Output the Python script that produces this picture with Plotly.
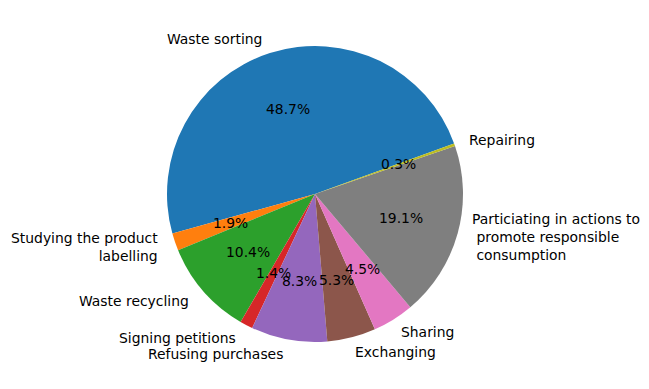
import numpy as np
import plotly.graph_objects as go

# share of respondents per action (percent)
labels = ['Waste sorting', 'Studying the product\nlabelling', 'Waste recycling',
          'Signing petitions', 'Refusing purchases', 'Exchanging', 'Sharing',
          'Particiating in actions to\n promote responsible\n consumption', 'Repairing']
shares = [48.7, 1.9, 10.4, 1.4, 8.3, 5.3, 4.5, 19.1, 0.3]
colors = ['#1f77b4', '#ff7f0e', '#2ca02c', '#d62728', '#9467bd',
          '#8c564b', '#e377c2', '#7f7f7f', '#bcbd22']
start_angle = 20  # degrees, counterclockwise from east

frac = np.array(shares) / np.sum(shares)
ends = start_angle + 360 * np.cumsum(frac)
mids = np.radians(ends - 180 * frac)

fig = go.Figure()
fig.add_trace(
    go.Pie(
        labels = [l.replace('\n', ' ') for l in labels],
        values = shares,
        sort = False,
        direction = 'counterclockwise',
        rotation = 90 - ends[0],  # plotly anchors the first slice's far edge here
        marker = dict(colors = colors, line = dict(width = 0)),
        textinfo = 'none',
        showlegend = False,
        hovertemplate = '%{label}: %{value}%<extra></extra>'
    )
)

# label and percent positions follow the slice mid angles
font = dict(family = 'DejaVu Sans', size = 13.9, color = 'black')

for lab, s, th in zip(labels, shares, mids):
    cx, cy = np.cos(th), np.sin(th)
    fig.add_annotation(
        x = 0.5 + 0.5 * 0.6 * cx, y = 0.5 + 0.5 * 0.6 * cy,
        xref = 'paper', yref = 'paper', text = f'{s:.1f}%',
        showarrow = False, xanchor = 'center', yanchor = 'middle',
        borderpad = 0, font = font
    )
    side = 'left' if cx > 0 else 'right'
    fig.add_annotation(
        x = 0.5 + 0.5 * 1.1 * cx, y = 0.5 + 0.5 * 1.1 * cy,
        xref = 'paper', yref = 'paper',
        text = lab.replace('\n ', '<br>\u00a0').replace('\n', '<br>'),
        showarrow = False, xanchor = side, yanchor = 'middle', align = side,
        xshift = -1 if side == 'left' else -2, borderpad = 0, font = font
    )

fig.update_layout(
    width = 649,
    height = 389,
    margin = dict(l = 167, r = 186, t = 46, b = 47),
    paper_bgcolor = 'white',
    plot_bgcolor = 'white'
)
fig.write_html('out.html', config = dict(displayModeBar = False),
               post_script = "document.body.style.margin='0';")
